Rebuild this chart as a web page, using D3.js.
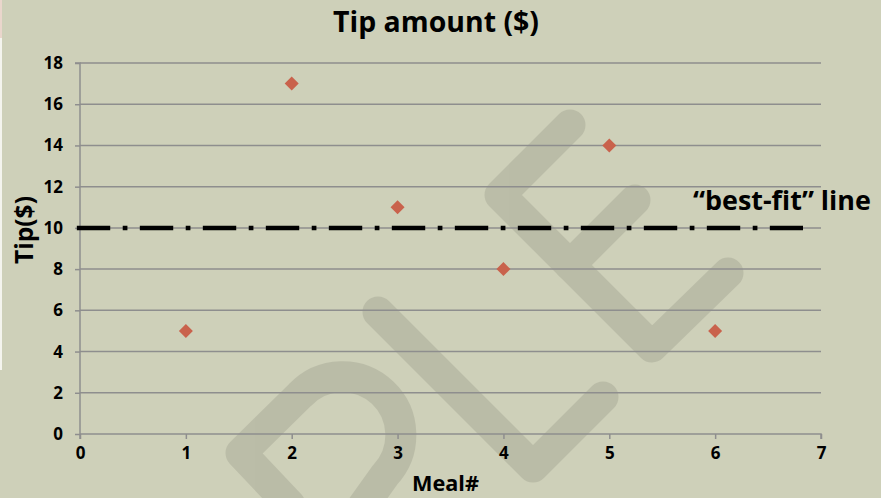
<!DOCTYPE html>
<html>
<head>
<meta charset="utf-8">
<script src="https://cdn.jsdelivr.net/npm/d3@7"></script>
<style>
  html, body { margin: 0; padding: 0; background: #ced0b9; }
  svg { display: block; }
  text { font-family: "Open Sans", "Liberation Sans", Arial, sans-serif; font-weight: 700; fill: #000; }
</style>
</head>
<body>
<svg id="chart" width="881" height="498"></svg>
<script>
// ---- data ----
const meals = [1, 2, 3, 4, 5, 6];
const tips = [5, 17, 11, 8, 14, 5];
const xTicks = [0, 1, 2, 3, 4, 5, 6, 7];
const yTicks = [0, 2, 4, 6, 8, 10, 12, 14, 16, 18];
const bestFitValue = 10;
const bestFitRange = [-0.03, 6.83];
const titleText = "Tip amount ($)";
const xTitle = "Meal#";
const yTitle = "Tip($)";
const bestFitLabel = "\u201cbest-fit\u201d line";

const W = 881, H = 498;
const FONT = '"Open Sans", "Liberation Sans", Arial, sans-serif';
const svg = d3.select("#chart");
const grid = "#8e8e8e";

svg.append("rect").attr("width", W).attr("height", H).attr("fill", "#ced0b9");
// thin left edge strip
svg.append("rect").attr("x", 0).attr("y", 0).attr("width", 2).attr("height", 38).attr("fill", "#ead6cc");
svg.append("rect").attr("x", 0).attr("y", 38).attr("width", 2).attr("height", 332).attr("fill", "#f4f4ee");

const x = d3.scaleLinear().domain([0, 7]).range([80, 821]);
const y = d3.scaleLinear().domain([0, 18]).range([434, 63]);

// scale a text element's font so its width matches a target
function fit(sel, target) {
  const fs = parseFloat(sel.attr("font-size"));
  const w = sel.node().getComputedTextLength();
  if (w > 0) sel.attr("font-size", fs * target / w);
  return sel;
}

// faint watermark shapes (decorative, behind gridlines)
const watermark = [
  "M570,125 L500,195 L652,347 L728,273",
  "M570,265 L635,200",
  "M378,312 L533,467 L603,397",
  "M290,505 L241,453 L300,395 A58,58 0 0 1 385,475 L360,510"
];
svg.append("g").attr("opacity", 0.09).selectAll("path").data(watermark).join("path")
  .attr("d", d => d)
  .attr("fill", "none").attr("stroke", "#000")
  .attr("stroke-width", 31).attr("stroke-linecap", "round").attr("stroke-linejoin", "round");

// gridlines
svg.append("g").selectAll("line").data(yTicks.filter(d => d > 0)).join("line")
  .attr("x1", x(0)).attr("x2", x(7))
  .attr("y1", d => y(d)).attr("y2", d => y(d))
  .attr("stroke", grid).attr("stroke-width", 1.5);

// y axis
const yAxis = d3.axisLeft(y).tickValues(yTicks).tickSize(5).tickPadding(12).tickFormat(d3.format("d"));
const gy = svg.append("g").attr("transform", `translate(${x(0)},0)`).call(yAxis);
gy.select(".domain").attr("stroke", grid).attr("stroke-width", 1.5).attr("d", `M-5,${y(18)}H0V${y(0)+5}`);
gy.selectAll(".tick line").attr("stroke", grid).attr("stroke-width", 1.5);
gy.selectAll(".tick text").attr("font-size", 17).attr("font-family", FONT).attr("font-weight", 700).attr("fill", "#000");

// x axis
const xAxis = d3.axisBottom(x).tickValues(xTicks).tickSize(5).tickPadding(8).tickFormat(d3.format("d"));
const gx = svg.append("g").attr("transform", `translate(0,${y(0)})`).call(xAxis);
gx.select(".domain").attr("stroke", grid).attr("stroke-width", 1.5).attr("d", `M${x(0)},0H${x(7)}V5`);
gx.selectAll(".tick line").attr("stroke", grid).attr("stroke-width", 1.5);
gx.selectAll(".tick text").attr("font-size", 17).attr("font-family", FONT).attr("font-weight", 700).attr("fill", "#000");

// best-fit line
svg.append("line")
  .attr("x1", x(bestFitRange[0])).attr("x2", x(bestFitRange[1]))
  .attr("y1", y(bestFitValue)).attr("y2", y(bestFitValue))
  .attr("stroke", "#000").attr("stroke-width", 4.5)
  .attr("stroke-dasharray", "33.4 12.5 4.7 12.4");

// points
const diamond = d3.symbol().type(d3.symbolSquare).size(98);
svg.append("g").selectAll("path").data(meals.map((m, i) => [m, tips[i]])).join("path")
  .attr("d", diamond)
  .attr("transform", d => `translate(${x(d[0])},${y(d[1])}) rotate(45)`)
  .attr("fill", "#c9624c");

// titles
fit(svg.append("text").attr("x", 436).attr("y", 32).attr("text-anchor", "middle")
  .attr("font-size", 28).text(titleText), 206);
fit(svg.append("text").attr("x", 445.5).attr("y", 491).attr("text-anchor", "middle")
  .attr("font-size", 20).text(xTitle), 67);
fit(svg.append("text").attr("transform", "translate(33,230) rotate(-90)").attr("text-anchor", "middle")
  .attr("font-size", 24).text(yTitle), 68);
fit(svg.append("text").attr("x", 693).attr("y", 210).attr("font-size", 25).text(bestFitLabel), 178);
</script>
</body>
</html>
